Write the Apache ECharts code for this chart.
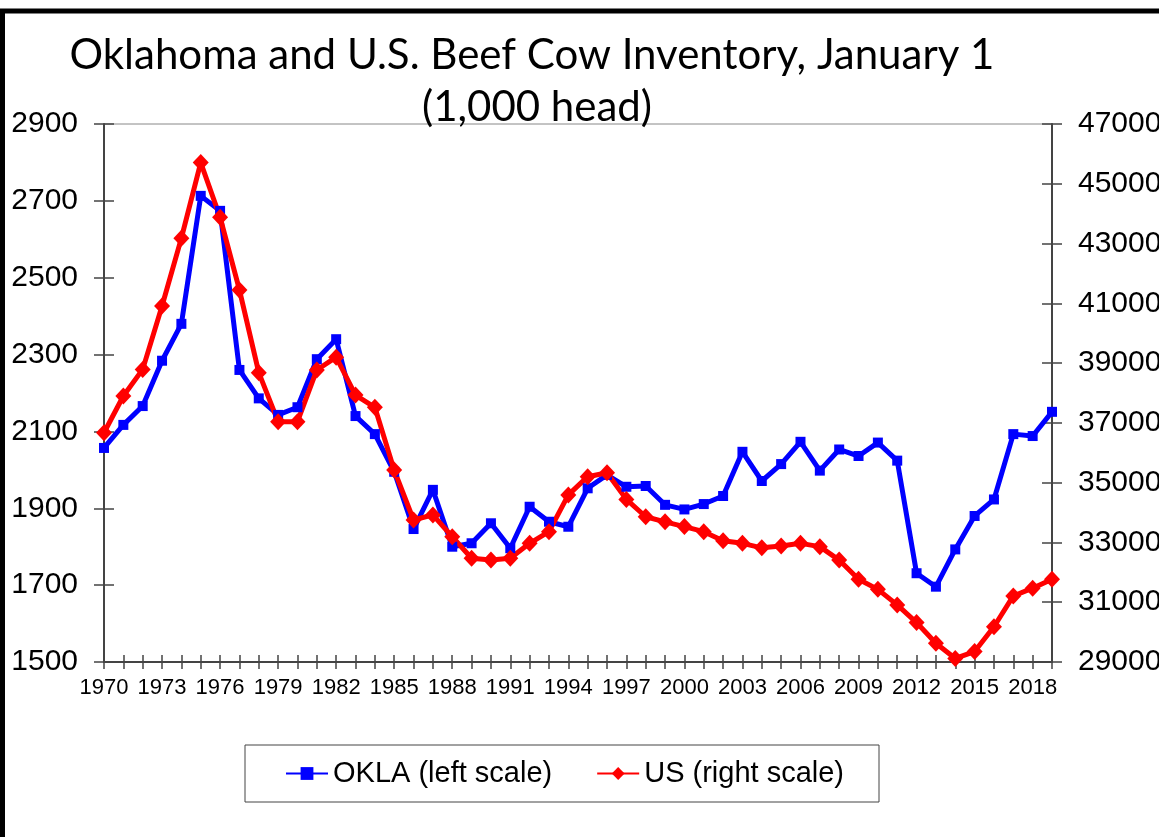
<!DOCTYPE html>
<html>
<head>
<meta charset="utf-8">
<title>Oklahoma and U.S. Beef Cow Inventory</title>
<script src="https://cdn.jsdelivr.net/npm/echarts@6/dist/echarts.min.js"></script>
<style>
  html, body { margin: 0; padding: 0; background: #fff; }
  #chart { width: 1159px; height: 837px; }
</style>
</head>
<body>
<div id="chart"></div>
<script>
// January 1 beef cow inventory, 1,000 head
const years = [
  '1970', '1971', '1972', '1973', '1974', '1975', '1976', '1977', '1978', '1979',
  '1980', '1981', '1982', '1983', '1984', '1985', '1986', '1987', '1988', '1989',
  '1990', '1991', '1992', '1993', '1994', '1995', '1996', '1997', '1998', '1999',
  '2000', '2001', '2002', '2003', '2004', '2005', '2006', '2007', '2008', '2009',
  '2010', '2011', '2012', '2013', '2014', '2015', '2016', '2017', '2018', '2019'
]

const okla = [
  2057, 2117, 2166, 2284, 2380, 2713, 2674, 2260, 2186, 2143,
  2163, 2288, 2340, 2140, 2093, 1995, 1846, 1948, 1800, 1809,
  1861, 1796, 1904, 1865, 1852, 1952, 1987, 1956, 1958, 1909,
  1897, 1911, 1932, 2047, 1971, 2015, 2073, 1998, 2053, 2036,
  2071, 2024, 1731, 1696, 1793, 1880, 1923, 2093, 2088, 2151
]

const us = [
  36670, 37900, 38790, 40910, 43180, 45710, 43880, 41450, 38680, 37040,
  37040, 38770, 39200, 37930, 37520, 35420, 33750, 33920, 33190, 32470,
  32410, 32470, 32970, 33360, 34590, 35200, 35330, 34440, 33860, 33690,
  33530, 33360, 33060, 32970, 32820, 32880, 32970, 32860, 32410, 31770,
  31430, 30910, 30320, 29630, 29120, 29350, 30180, 31210, 31470, 31770
]

const leftTicks = [1500, 1700, 1900, 2100, 2300, 2500, 2700, 2900]
const rightTicks = [29000, 31000, 33000, 35000, 37000, 39000, 41000, 43000, 45000, 47000]

const axisColor = '#444'
const labelFont = 'Liberation Sans, Arial, sans-serif'

const chart = echarts.init(document.getElementById('chart'))

// the reference has ticks crossing the axis line, so each axis gets
// an unlabeled twin that draws the inside half of the ticks
function yAxisOf (side, min, max, ticks, twin) {
  return {
    type: 'value',
    position: side,
    min: min,
    max: max,
    axisLine: { show: !twin, lineStyle: { color: axisColor, width: 2 } },
    axisTick: {
      show: true,
      inside: !!twin,
      length: 10,
      customValues: ticks,
      lineStyle: { color: axisColor, width: 1.5 }
    },
    axisLabel: {
      show: !twin,
      customValues: ticks,
      formatter: v => String(v),
      margin: 26,
      fontSize: 30,
      fontFamily: labelFont,
      color: '#000'
    },
    splitLine: { show: false }
  }
}

function xAxisOf (twin) {
  return {
    type: 'category',
    data: years,
    boundaryGap: false,
    position: 'bottom',
    axisLine: { show: !twin, lineStyle: { color: axisColor, width: 2 } },
    axisTick: {
      show: true,
      inside: !!twin,
      interval: 0,
      length: 7,
      lineStyle: { color: axisColor, width: 1.5 }
    },
    axisLabel: {
      show: !twin,
      interval: 2,
      margin: 15,
      fontSize: 22,
      fontFamily: labelFont,
      color: '#000'
    },
    splitLine: { show: false }
  }
}

chart.setOption({
  animation: false,
  backgroundColor: '#fff',
  title: [
    {
      text: 'Oklahoma and U.S. Beef Cow Inventory, January 1',
      left: 527,
      top: 29,
      textAlign: 'center',
      textStyle: { fontFamily: 'Lato', fontSize: 42, fontWeight: 'normal', color: '#000' }
    },
    {
      text: '(1,000 head)',
      left: 532,
      top: 81,
      textAlign: 'center',
      textStyle: { fontFamily: 'Lato', fontSize: 42, fontWeight: 'normal', color: '#000' }
    }
  ],
  legend: {
    left: 245,
    top: 745,
    padding: [14, 35, 14, 40],
    itemGap: 44,
    itemWidth: 42,
    itemHeight: 16,
    borderColor: '#444',
    borderWidth: 1,
    textStyle: { fontSize: 29, fontFamily: labelFont, color: '#000' },
    data: ['OKLA (left scale)', 'US (right scale)']
  },
  grid: {
    left: 104,
    right: 107,
    top: 124,
    bottom: 175,
    outerBoundsMode: 'none',
    show: true,
    borderColor: '#888',
    borderWidth: 1
  },
  xAxis: [xAxisOf(false), xAxisOf(true)],
  yAxis: [
    yAxisOf('left', 1500, 2900, leftTicks, false),
    yAxisOf('right', 29000, 47000, rightTicks, false),
    yAxisOf('left', 1500, 2900, leftTicks, true),
    yAxisOf('right', 29000, 47000, rightTicks, true)
  ],
  graphic: [
    { type: 'line', shape: { x1: 0, y1: 11, x2: 1159, y2: 11 }, style: { stroke: '#000', lineWidth: 5 } },
    { type: 'line', shape: { x1: 2.5, y1: 9, x2: 2.5, y2: 837 }, style: { stroke: '#000', lineWidth: 5 } }
  ],
  series: [
    {
      name: 'OKLA (left scale)',
      type: 'line',
      yAxisIndex: 0,
      data: okla,
      symbol: 'rect',
      symbolSize: 10,
      showAllSymbol: true,
      itemStyle: { color: '#0000ff' },
      lineStyle: { color: '#0000ff', width: 5 }
    },
    {
      name: 'US (right scale)',
      type: 'line',
      yAxisIndex: 1,
      data: us,
      symbol: 'diamond',
      symbolSize: [16, 17],
      showAllSymbol: true,
      itemStyle: { color: '#ff0000' },
      lineStyle: { color: '#ff0000', width: 5 }
    }
  ]
})
</script>
</body>
</html>
